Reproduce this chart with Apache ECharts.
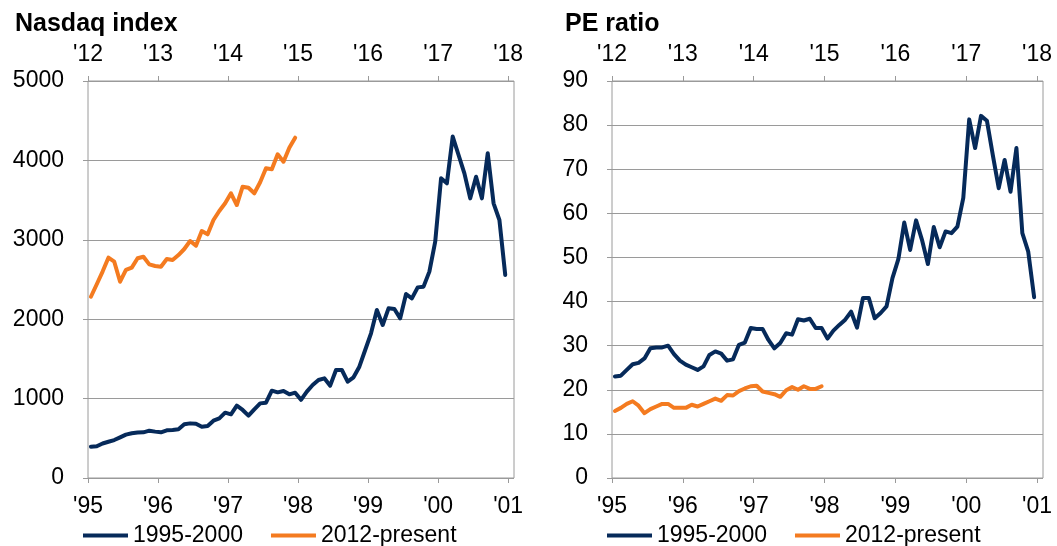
<!DOCTYPE html>
<html>
<head>
<meta charset="utf-8">
<script src="https://cdn.jsdelivr.net/npm/echarts@6/dist/echarts.min.js"></script>
<style>
html, body { margin: 0; padding: 0; background: #fff; }
#chart { width: 1057px; height: 546px; }
</style>
</head>
<body>
<div id="chart"></div>
<script>
// data, monthly points
var seriesNames = ['1995-2000', '2012-present'];
var bottomYears = ["'95", "'96", "'97", "'98", "'99", "'00", "'01"];
var topYears = ["'12", "'13", "'14", "'15", "'16", "'17", "'18"];

var nasdaq1995 = [395, 400, 435, 456, 478, 512, 546, 563, 573, 575, 596, 584,
	575, 600, 605, 613, 676, 688, 684, 646, 655, 722, 751, 823,
	802, 911, 857, 785, 865, 940, 949, 1100, 1079, 1096, 1054, 1075,
	985, 1088, 1171, 1234, 1255, 1163, 1360, 1360, 1213, 1268, 1402, 1612,
	1822, 2116, 1927, 2137, 2128, 2011, 2317, 2263, 2401, 2410, 2599, 2976,
	3774, 3711, 4300, 4068, 3837, 3522, 3795, 3522, 4089, 3459, 3249, 2557];
var nasdaq2012 = [2283, 2440, 2600, 2775, 2724, 2472, 2620, 2650, 2767, 2787, 2690, 2670,
	2661, 2758, 2746, 2808, 2884, 2985, 2926, 3111, 3069, 3249, 3363, 3460,
	3586, 3438, 3669, 3656, 3586, 3724, 3900, 3888, 4077, 3984, 4160, 4286];

var pe1995 = [23.0, 23.2, 24.5, 25.8, 26.1, 27.1, 29.4, 29.6, 29.6, 30.0, 28.1, 26.6,
	25.7, 25.1, 24.5, 25.3, 27.9, 28.7, 28.2, 26.6, 26.9, 30.2, 30.7, 34.0,
	33.8, 33.8, 31.3, 29.4, 30.6, 32.8, 32.5, 36.0, 35.7, 36.1, 34.0, 34.0,
	31.6, 33.4, 34.7, 35.9, 37.7, 34.1, 40.8, 40.8, 36.2, 37.4, 38.9, 45.3,
	49.6, 57.9, 51.7, 58.4, 54.0, 48.5, 56.9, 52.3, 55.9, 55.5, 57.0, 63.5,
	81.3, 74.8, 82.1, 81.0, 73.2, 65.7, 72.1, 64.9, 74.8, 55.5, 51.3, 41.0];
var pe2012 = [15.2, 15.9, 16.8, 17.4, 16.4, 14.7, 15.6, 16.2, 16.8, 16.8, 15.9, 15.9,
	15.9, 16.6, 16.2, 16.8, 17.4, 18.0, 17.5, 18.8, 18.7, 19.7, 20.3, 20.8,
	20.9, 19.6, 19.3, 19.0, 18.4, 19.9, 20.6, 20.0, 20.8, 20.2, 20.2, 20.8];

var navy = '#062a5a';
var orange = '#f47b20';
var gray = '#9a9a9a';
var font = 'Liberation Sans, Arial, sans-serif';

// month i sits in the middle of its month on a years axis
function toPoints(values) {
	return values.map(function(v, i) { return [(i + 0.5) / 12, v]; });
}

function xAxisFor(gridIndex, position, labels) {
	return {
		type: 'value',
		gridIndex: gridIndex,
		position: position,
		min: 0,
		max: 73 / 12,
		axisLine: { show: false },
		axisTick: { show: true, length: 5, customValues: [0, 1, 2, 3, 4, 5, 6], lineStyle: { color: gray } },
		splitLine: { show: false },
		axisLabel: {
			customValues: [0, 1, 2, 3, 4, 5, 6],
			fontFamily: font, fontSize: 23, color: '#000',
			margin: position == 'top' ? 15 : 17,
			formatter: function(v) { return labels[Math.round(v)]; }
		}
	};
}

function yAxisFor(gridIndex, max, interval) {
	return {
		type: 'value',
		gridIndex: gridIndex,
		min: 0,
		max: max,
		interval: interval,
		axisLine: { show: false },
		axisTick: { show: true, length: 5, lineStyle: { color: gray } },
		splitLine: { show: true, lineStyle: { color: gray, width: 1 } },
		axisLabel: {
			fontFamily: font, fontSize: 23, color: '#000', margin: 24,
			formatter: function(v) { return String(v); }
		}
	};
}

function lineSeries(name, color, xIdx, yIdx, values) {
	return {
		name: name,
		type: 'line',
		xAxisIndex: xIdx,
		yAxisIndex: yIdx,
		data: toPoints(values),
		showSymbol: false,
		lineStyle: { color: color, width: 4, join: 'round', cap: 'round' },
		itemStyle: { color: color }
	};
}

function legendAt(left) {
	return {
		left: left,
		top: 524,
		padding: 0,
		data: seriesNames,
		icon: 'rect',
		itemWidth: 45,
		itemHeight: 4,
		itemGap: 28,
		textStyle: { fontFamily: font, fontSize: 23, color: '#000' }
	};
}

var myChart = echarts.init(document.getElementById('chart'));
myChart.setOption({
	animation: false,
	title: [
		{ text: 'Nasdaq index', left: 10, top: 7, textStyle: { fontFamily: font, fontSize: 25, fontWeight: 'bold', color: '#000' } },
		{ text: 'PE ratio', left: 560, top: 7, textStyle: { fontFamily: font, fontSize: 25, fontWeight: 'bold', color: '#000' } }
	],
	legend: [legendAt(83), legendAt(607)],
	grid: [
		{ left: 88, top: 81, width: 426, height: 397, show: true, borderColor: gray, borderWidth: 1 },
		{ left: 612, top: 81, width: 431, height: 397, show: true, borderColor: gray, borderWidth: 1 }
	],
	xAxis: [
		xAxisFor(0, 'bottom', bottomYears),
		xAxisFor(0, 'top', topYears),
		xAxisFor(1, 'bottom', bottomYears),
		xAxisFor(1, 'top', topYears)
	],
	yAxis: [
		yAxisFor(0, 5000, 1000),
		yAxisFor(1, 90, 10)
	],
	series: [
		lineSeries(seriesNames[0], navy, 0, 0, nasdaq1995),
		lineSeries(seriesNames[1], orange, 1, 0, nasdaq2012),
		lineSeries(seriesNames[0], navy, 2, 1, pe1995),
		lineSeries(seriesNames[1], orange, 3, 1, pe2012)
	]
});
</script>
</body>
</html>
